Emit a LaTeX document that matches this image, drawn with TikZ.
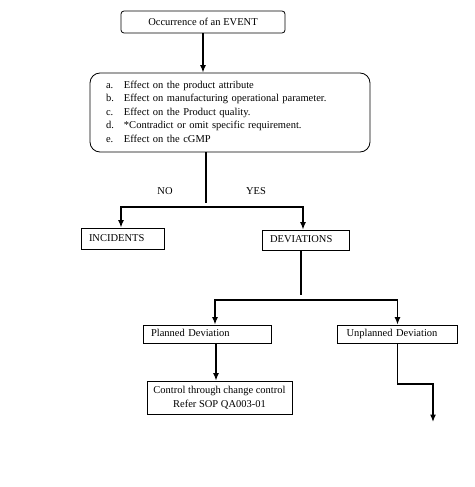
\documentclass[tikz,border=0pt]{standalone}
\usepackage{fontspec}
\setmainfont{Liberation Serif}
\usetikzlibrary{arrows.meta,positioning,calc}
\tikzset{
  box/.style={draw,line width=0.8pt,inner sep=0pt,font=\fontsize{10.5}{13.5}\selectfont},
  leftbox/.style={box,align=left,inner xsep=8pt,text height=7.5pt,text depth=2pt},
  arr/.style={line width=1.3pt,-{Latex[length=7.5pt,width=6pt]}},
  con/.style={line width=1.3pt},
  lbl/.style={font=\fontsize{10.5}{13.5}\selectfont}
}
\begin{document}
\begin{tikzpicture}[x=1pt,y=-1pt]
\useasboundingbox (0,0) rectangle (474,487);
\node[box,rounded corners=3pt,minimum width=164pt,minimum height=22pt] (event) at (203,22) {Occurrence of an EVENT};
\node[box,rounded corners=10pt,minimum width=280pt,minimum height=79pt,text width=248pt,inner xsep=16pt,align=left] (effects) at (230,112.5) {\begin{tabular}{@{}p{18pt}@{}l@{}}
a. & Effect on the product attribute\\
b. & Effect on manufacturing operational parameter.\\
c. & Effect on the Product quality.\\
d. & *Contradict or omit specific requirement.\\
e. & Effect on the cGMP
\end{tabular}};
\node[leftbox,text width=67pt,minimum height=21pt] (incidents) at (122.5,238.5) {INCIDENTS};
\node[leftbox,text width=71pt,minimum height=20pt] (deviations) at (305.5,240) {DEVIATIONS};
\node[leftbox,text width=112pt,minimum height=18pt] (planned) at (207,334) {Planned Deviation};
\node[leftbox,text width=102pt,inner xsep=9pt,minimum height=18pt] (unplanned) at (397.5,334) {Unplanned Deviation};
\node[box,align=center,minimum width=145pt,minimum height=33pt] (control) at (219.5,397.5) {Control through change control\\Refer SOP QA003-01};
\node[lbl] (no) at (165,191) {NO};
\node[lbl] (yes) at (256,191) {YES};
\coordinate (stem1) at (206,203);
\coordinate (fork1) at (206,207);
\coordinate (stem2) at (301,295);
\coordinate (fork2) at (301,300);
\coordinate (bend) at (433,384);
\coordinate (loose) at (433,422);
\draw[arr] (event.south) -- (event.south |- effects.north);
\draw[con] (stem1 |- effects.south) -- (stem1);
\draw[arr] (fork1) -| ([xshift=-1.5pt]incidents.north);
\draw[arr] (fork1) -| ([xshift=-2.5pt]deviations.north);
\draw[con] (stem2 |- deviations.south) -- (stem2);
\draw[arr] (fork2) -| ([xshift=8pt]planned.north);
\draw[arr] (fork2) -| (unplanned.north);
\draw[arr] ([xshift=9pt]planned.south) -- ([xshift=9pt]planned.south |- control.north);
\draw[arr] (unplanned.south) |- (bend) -- (loose);
\end{tikzpicture}
\end{document}
